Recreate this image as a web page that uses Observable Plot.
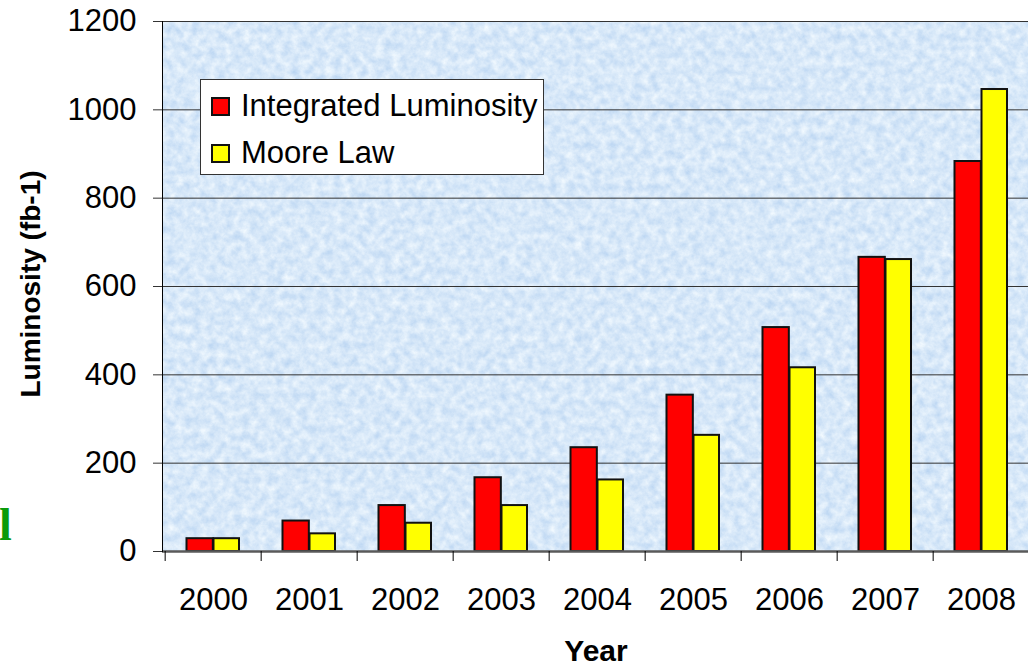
<!DOCTYPE html>
<html>
<head>
<meta charset="utf-8">
<script src="https://cdn.jsdelivr.net/npm/d3@7"></script>
<script src="https://cdn.jsdelivr.net/npm/@observablehq/plot@0.6"></script>
<style>
  html, body { margin: 0; padding: 0; background: #fff; overflow: hidden; width: 1028px; height: 666px; }
  #wrap { position: relative; width: 1028px; height: 666px; overflow: hidden; font-family: "Liberation Sans", Arial, sans-serif; }
  #chart { position: absolute; left: 0; top: 0; width: 1040px; }
  #chart svg { max-width: none !important; }
  .abs { position: absolute; white-space: nowrap; }
  #legend { position: absolute; left: 200px; top: 79px; width: 342px; height: 94px; background: #fff; border: 1px solid #333; }
  .sw { position: absolute; width: 15px; height: 15px; border: 2px solid #111; }
  .lt { position: absolute; font-size: 31px; line-height: 31px; color: #000; white-space: nowrap; }
</style>
</head>
<body>
<div id="wrap">
  <div id="chart"></div>
  <div id="legend"></div>
  <div id="ytitle" class="abs" style="left:31px;top:284px;transform:translate(-50%,-50%) rotate(-90deg);font-weight:bold;font-size:28px;line-height:28px;">Luminosity (fb-1)</div>
  <div id="xtitle" class="abs" style="left:596px;top:639px;transform:translateX(-50%);font-weight:bold;font-size:30px;line-height:24px;">Year</div>
  <div id="green" class="abs" style="left:-1px;top:501.5px;font-family:'Liberation Serif','DejaVu Serif',serif;font-weight:bold;font-size:46px;line-height:46px;color:#0a9a0a;">l</div>
</div>
<script>
const years = ["2000", "2001", "2002", "2003", "2004", "2005", "2006", "2007", "2008"];
const integrated = [29, 69, 104, 167, 235, 354, 507, 666, 883];
const moore = [29, 40, 64, 104, 162, 263, 416, 661, 1046];
const seriesNames = ["Integrated Luminosity", "Moore Law"];
const seriesColors = ["#ff0000", "#ffff00"];
const yTicks = [0, 200, 400, 600, 800, 1000, 1200];

const W = 1040, ML = 162, MR = 8;
const band = (W - ML - MR) / years.length;

const dataI = years.map((y, i) => ({year: y, value: integrated[i]}));
const dataM = years.map((y, i) => ({year: y, value: moore[i]}));

const plot = Plot.plot({
  width: W,
  height: 666,
  marginLeft: ML,
  marginRight: MR,
  marginTop: 21,
  marginBottom: 115,
  style: {fontFamily: '"Liberation Sans", Arial, sans-serif', fontSize: "31px", color: "#000", background: "transparent", overflow: "visible", maxWidth: "none"},
  x: {type: "band", domain: years, padding: 0, axis: null, label: null},
  y: {domain: [0, 1200], axis: null, label: null},
  marks: [
    Plot.frame({fill: "#d6e7f9", stroke: null, className: "bgframe"}),
    Plot.gridY(yTicks.slice(1), {stroke: "#333", strokeOpacity: 1, strokeWidth: 1}),
    Plot.barY(dataI, {x: "year", y: "value", fill: seriesColors[0], stroke: "#111", strokeWidth: 2, insetLeft: 21.5, insetRight: band - 48.5}),
    Plot.barY(dataM, {x: "year", y: "value", fill: seriesColors[1], stroke: "#111", strokeWidth: 2, insetLeft: 48.5, insetRight: 22}),
    Plot.ruleY([0], {stroke: "#5a5a5a", strokeWidth: 2.5}),
    Plot.frame({anchor: "left", stroke: "#000", strokeWidth: 1}),
    Plot.axisY({ticks: yTicks, tickFormat: d => String(d), tickSize: 9, tickPadding: 17, fontSize: 31, stroke: "#333", fill: "#000", label: null}),
    Plot.axisX({tickSize: 10, dx: -band / 2, fill: "none", stroke: "#000", label: null}),
    Plot.axisX({tickSize: 0, tickPadding: 36, fontSize: 31, fill: "#000", label: null})
  ]
});
document.getElementById("chart").appendChild(plot);

// Subtle paper-like texture on the plot background
try {
  const svg = d3.select(plot);
  const defs = svg.insert("defs", ":first-child");
  const f = defs.append("filter").attr("id", "paper").attr("x", 0).attr("y", 0).attr("width", 1).attr("height", 1)
    .attr("filterUnits", "objectBoundingBox").attr("color-interpolation-filters", "sRGB");
  f.append("feTurbulence").attr("type", "fractalNoise").attr("baseFrequency", 0.12).attr("numOctaves", 4).attr("seed", 7).attr("result", "noise");
  f.append("feColorMatrix").attr("in", "noise").attr("type", "matrix")
    .attr("values", "0.26 0 0 0 0.715  0.17 0 0 0 0.825  0.06 0 0 0 0.945  0 0 0 0 1");
  const bg = svg.select("g.bgframe rect, rect.bgframe, .bgframe rect");
  if (!bg.empty()) bg.attr("filter", "url(#paper)");
} catch (e) {}

// Legend built from the series arrays
const legend = document.getElementById("wrap");
const swTops = [97, 144];
const textTops = [89.5, 137];
seriesNames.forEach((name, i) => {
  const sw = document.createElement("div");
  sw.className = "sw";
  sw.style.left = "211px";
  sw.style.top = swTops[i] + "px";
  sw.style.background = seriesColors[i];
  legend.appendChild(sw);
  const t = document.createElement("div");
  t.className = "lt";
  t.style.left = "241px";
  t.style.top = textTops[i] + "px";
  t.textContent = name;
  legend.appendChild(t);
});
</script>
</body>
</html>
